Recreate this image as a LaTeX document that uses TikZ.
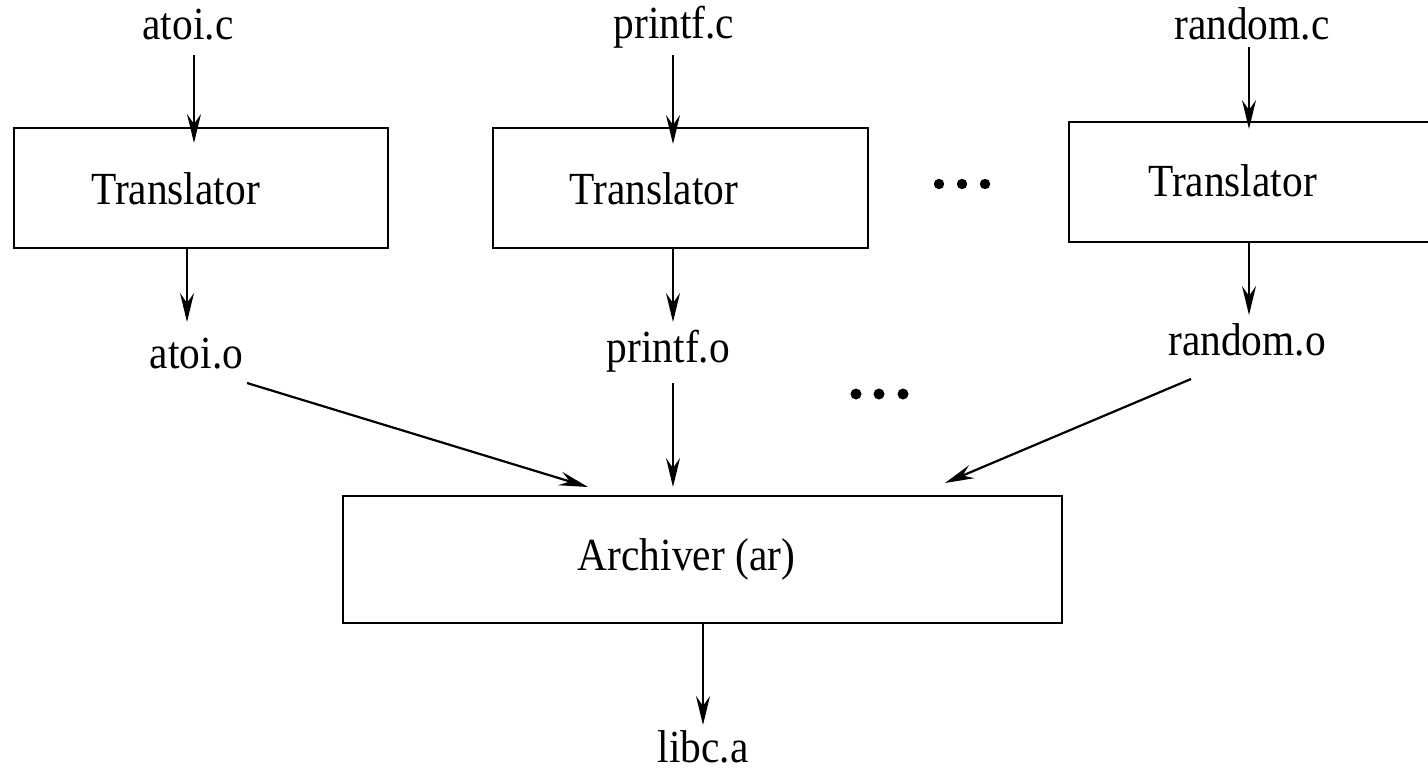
\documentclass[tikz,border=0pt]{standalone}
\usepackage{fontspec}
\setmainfont{Liberation Serif}[FakeStretch=0.9]
\usetikzlibrary{arrows.meta,calc}
\begin{document}
\begin{tikzpicture}[x=1pt,y=-1pt,
  every node/.style={inner sep=0pt,outer sep=0pt},
  lbl/.style={anchor=base,font=\fontsize{46}{50}\selectfont},
  boxnode/.style={draw,line width=2.6pt,rectangle,outer sep=0pt},
  arr/.style={line width=2.2pt,-{Stealth[length=29pt,width=14pt,inset=10pt]}},
  dot/.style={fill=black}]
\useasboundingbox (0,0) rectangle (1428,768);
\clip (0,0) rectangle (1428,768);
% sources
\node[lbl] (atoic) at (188,40) {atoi.c};
\node[lbl] (printfc) at (674,39) {printf.c};
\node[lbl] (randomc) at (1252,40) {random.c};
% translator boxes
\node[boxnode,minimum width=374pt,minimum height=120pt] (box1) at (201,188) {};
\node[boxnode,minimum width=375pt,minimum height=120pt] (box2) at (680.5,188) {};
\node[boxnode,minimum width=375pt,minimum height=120pt] (box3) at (1256.5,182) {};
\node[lbl] (t1) at (175.5,204) {Translator};
\node[lbl] (t2) at (654,204) {Translator};
\node[lbl] (t3) at (1232.5,196) {Translator};
% objects
\node[lbl] (atoio) at (196.5,368) {atoi.o};
\node[lbl] (printfo) at (668.5,362) {printf.o};
\node[lbl] (randomo) at (1247,355) {random.o};
% archiver
\node[boxnode,minimum width=719pt,minimum height=127pt] (arch) at (702.5,559.5) {};
\node[lbl] (archl) at (686.5,570) {Archiver (ar)};
\node[lbl] (libca) at (703,762) {libc.a};
% dots
\foreach \x in {939,962,985} \fill[dot] (\x,184) circle (5.2pt);
\foreach \x in {856,879,903} \fill[dot] (\x,394) circle (5.5pt);
% connectors: sources -> translators
\draw[arr] ([shift={(6,15)}]atoic.base) -- ([shift={(6,15)}]atoic.base |- box1.north);
\draw[arr] ([shift={(-1,16)}]printfc.base) -- ([shift={(-1,16)}]printfc.base |- box2.north);
\draw[arr] ([shift={(-3,7)}]randomc.base) -- ([shift={(-3,7)}]randomc.base |- box3.north);
% translators -> objects
\draw[arr] ([xshift=-14pt]box1.south) -- ([shift={(-9.5,-46)}]atoio.base);
\draw[arr] ([xshift=-7.5pt]box2.south) -- ([shift={(4.5,-40)}]printfo.base);
\draw[arr] ([xshift=-7.5pt]box3.south) -- ([shift={(2,-40)}]randomo.base);
% objects -> archiver
\draw[arr] ([shift={(50.5,15)}]atoio.base) -- ([shift={(-114.5,-9)}]arch.north);
\draw[arr] ([shift={(4.5,21)}]printfo.base) -- ([shift={(-29.5,-9)}]arch.north);
\draw[arr] ([shift={(-56,24)}]randomo.base) -- ([shift={(242.5,-13)}]arch.north);
% archiver -> libc.a
\draw[arr] ([xshift=0.5pt]arch.south) -- ([shift={(0,-37)}]libca.base);
\end{tikzpicture}
\end{document}
